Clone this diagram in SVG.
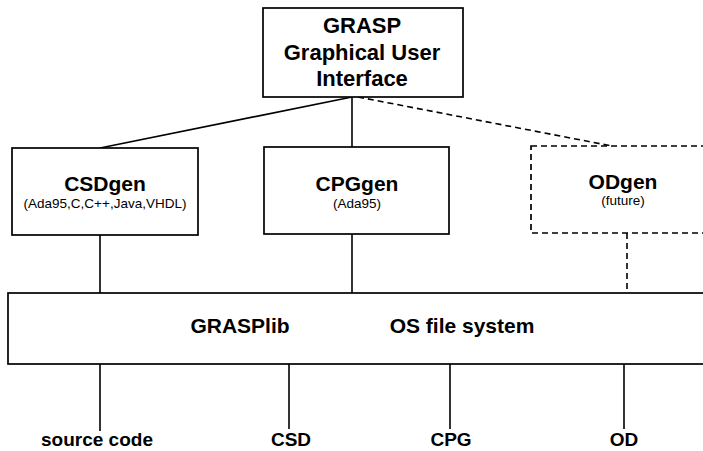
<svg xmlns="http://www.w3.org/2000/svg" width="703" height="451" viewBox="0 0 703 451">
<style>
.box{fill:#fff;stroke:#000;stroke-width:1.7}
.dbox{fill:#fff;stroke:#000;stroke-width:1.7;stroke-dasharray:6 4}
.ln{stroke:#000;stroke-width:1.6;fill:none}
.dln{stroke:#000;stroke-width:1.6;fill:none;stroke-dasharray:6 4}
.t{font-family:"Liberation Sans",Arial,sans-serif;font-weight:bold;font-size:21px;text-anchor:middle;fill:#000}
.h{font-family:"Liberation Sans",Arial,sans-serif;font-weight:bold;font-size:22px;text-anchor:middle;fill:#000}
.s{font-family:"Liberation Sans",Arial,sans-serif;font-size:13.5px;text-anchor:middle;fill:#000}
.o{font-family:"Liberation Sans",Arial,sans-serif;font-weight:bold;font-size:19px;text-anchor:middle;fill:#000}
</style>
<rect width="703" height="451" fill="#fff"/>
<g id="connectors">
<line class="ln" x1="352" y1="97" x2="100" y2="148"/>
<line class="ln" x1="352" y1="97" x2="352" y2="147"/>
<line class="dln" x1="358" y1="97" x2="612" y2="146"/>
<line class="ln" x1="100" y1="235" x2="100" y2="293"/>
<line class="ln" x1="352" y1="234" x2="352" y2="293"/>
<line class="dln" x1="627" y1="233" x2="627" y2="293"/>
<line class="ln" x1="100" y1="364" x2="100" y2="431"/>
<line class="ln" x1="289" y1="364" x2="289" y2="429"/>
<line class="ln" x1="450" y1="364" x2="450" y2="429"/>
<line class="ln" x1="624" y1="364" x2="624" y2="429"/>
</g>
<g id="gui">
<rect class="box" x="263" y="8" width="200" height="89"/>
<text class="h" x="362" y="33">GRASP</text>
<text class="h" x="362" y="60">Graphical User</text>
<text class="h" x="362" y="86">Interface</text>
</g>
<g id="csdgen">
<rect class="box" x="12" y="148" width="186" height="87"/>
<text class="t" x="105" y="191">CSDgen</text>
<text class="s" x="105" y="208">(Ada95,C,C++,Java,VHDL)</text>
</g>
<g id="cpggen">
<rect class="box" x="264" y="147" width="185" height="87"/>
<text class="t" x="357" y="191">CPGgen</text>
<text class="s" x="357" y="208">(Ada95)</text>
</g>
<g id="odgen">
<rect class="dbox" x="531" y="146" width="190" height="87"/>
<text class="t" x="623" y="189">ODgen</text>
<text class="s" x="623" y="205">(future)</text>
</g>
<g id="grasplib">
<rect class="box" x="8" y="293" width="710" height="71"/>
<text class="t" x="240" y="333">GRASPlib</text>
<text class="t" x="462" y="333">OS file system</text>
</g>
<g id="outputs">
<text class="o" x="97" y="446">source code</text>
<text class="o" x="291" y="446">CSD</text>
<text class="o" x="451" y="446">CPG</text>
<text class="o" x="624" y="446">OD</text>
</g>
</svg>
